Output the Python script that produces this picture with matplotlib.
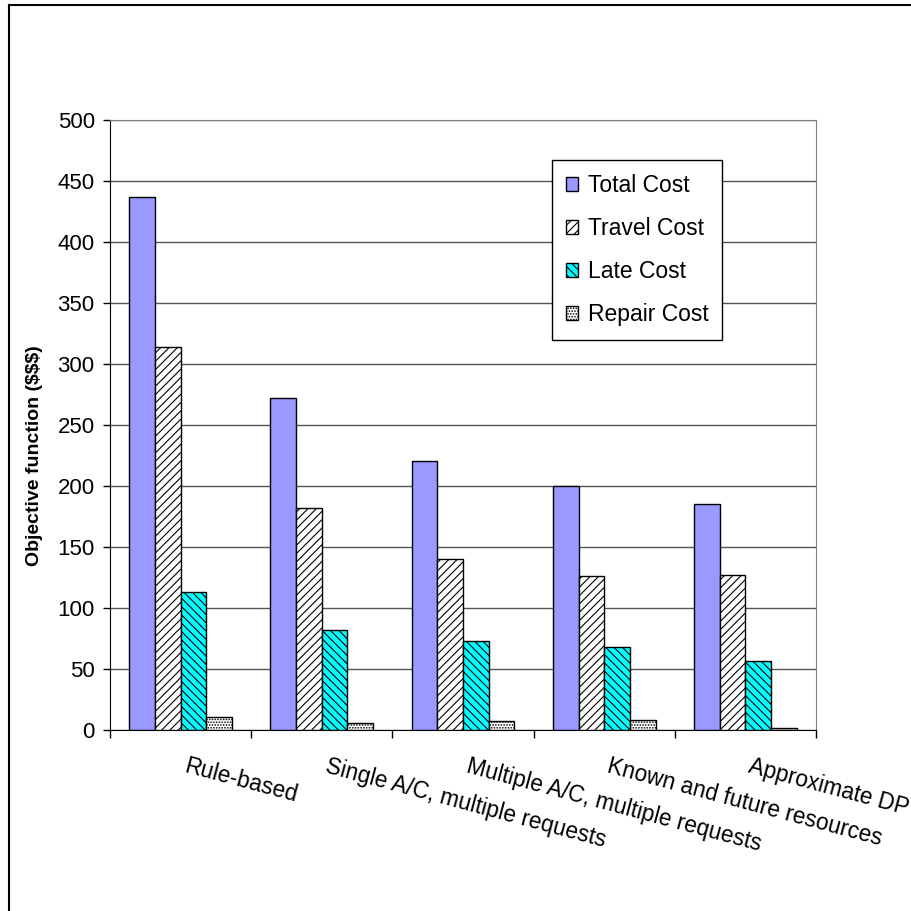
import numpy as np
import matplotlib
matplotlib.use('Agg')
import matplotlib.pyplot as plt
from matplotlib.lines import Line2D

plt.rcParams['font.family'] = ['Liberation Sans', 'DejaVu Sans']
plt.rcParams['hatch.linewidth'] = 0.8

# data
categories = ['Rule-based', 'Single A/C, multiple requests', 'Multiple A/C, multiple requests',
              'Known and future resources', 'Approximate DP']
total_cost = [437, 272, 220, 200, 185]
travel_cost = [314, 182, 140, 126, 127]
late_cost = [113, 82, 73, 68, 56]
repair_cost = [10, 5, 7, 8, 1]

series = [
    ('Total Cost', total_cost, '#9999FF', ''),
    ('Travel Cost', travel_cost, 'white', '////'),
    ('Late Cost', late_cost, '#00FFFF', '\\\\\\\\'),
    ('Repair Cost', repair_cost, 'white', '......'),
]

fig = plt.figure(figsize=(9.12, 9.11), dpi=100)
ax = fig.add_axes([110/912, 1 - 729.5/911, (816 - 110)/912, (729.5 - 120)/911])

x = np.arange(len(categories))
width = 1 / 5.5
for k, (name, vals, color, hatch) in enumerate(series):
    ax.bar(x + (k - 1.5) * width, vals, width, color=color, edgecolor='black',
           linewidth=1, hatch=hatch, label=name, zorder=3)

# axes styling
ax.set_xlim(-0.5, len(categories) - 0.5)
ax.set_ylim(0, 500)
ax.set_yticks(np.arange(0, 501, 50))
ax.yaxis.grid(True, color='#555555', linewidth=1, zorder=0)
ax.set_axisbelow(True)
ax.tick_params(axis='y', labelsize=16, length=5, width=1, pad=6)
ax.set_xticks(np.arange(len(categories) + 1) - 0.5)
ax.set_xticklabels([])
ax.tick_params(axis='x', length=6, width=1)
ax.spines['top'].set_color('#808080')
ax.spines['right'].set_color('#808080')

# category labels, slanted
for i, lbl in enumerate(categories):
    ax.annotate(lbl, xy=(i, 0), xycoords=('data', 'axes fraction'),
                xytext=(5, -18), textcoords='offset points',
                rotation=-15, ha='left', va='top', rotation_mode='anchor',
                fontsize=16.3)

fig.text(35/912, 1 - 456/911, 'Objective function ($$$)', rotation=90,
         fontsize=14, fontweight='bold', ha='center', va='center')

leg = ax.legend(loc='upper left', bbox_to_anchor=(552/912, 1 - 160/911),
                bbox_transform=fig.transFigure, fontsize=16.5, frameon=True,
                fancybox=False, edgecolor='black', framealpha=1,
                handlelength=0.55, handleheight=0.55, handletextpad=0.4,
                labelspacing=0.88, borderpad=0.6, borderaxespad=0)
leg.get_frame().set_linewidth(1)

# outer chart border (top and left edges visible)
fig.add_artist(Line2D([9.5/912, 1], [1 - 4.5/911, 1 - 4.5/911], color='black', linewidth=1.5,
                      transform=fig.transFigure))
fig.add_artist(Line2D([9.5/912, 9.5/912], [0, 1 - 4.5/911], color='black', linewidth=1.5,
                      transform=fig.transFigure))

plt.savefig('out.png', dpi=100)
